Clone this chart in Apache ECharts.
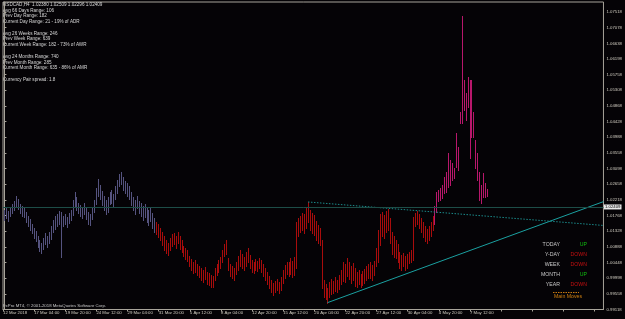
<!DOCTYPE html>
<html><head><meta charset="utf-8">
<script src="https://cdn.jsdelivr.net/npm/echarts/dist/echarts.min.js"></script>
<style>html,body{margin:0;padding:0;background:#000}#c{width:625px;height:319px}</style>
</head><body><div id="c"></div>
<script>
// ---- data ----
const highs = [
1.0192,1.0198,1.0189,1.0200,1.0209,1.0217,1.0231,1.0223,1.0209,1.0203,
1.0198,1.0186,1.0175,1.0167,1.0153,1.0141,1.0133,1.0119,1.0108,1.0099,
1.0113,1.0127,1.0119,1.0130,1.0147,1.0164,1.0175,1.0181,1.0189,1.0186,
1.0175,1.0181,1.0172,1.0184,1.0192,1.0220,1.0243,1.0228,1.0212,1.0206,
1.0200,1.0212,1.0198,1.0186,1.0181,1.0200,1.0220,1.0254,1.0279,1.0262,
1.0245,1.0231,1.0220,1.0228,1.0243,1.0248,1.0237,1.0259,1.0276,1.0293,
1.0299,1.0285,1.0273,1.0268,1.0259,1.0243,1.0228,1.0220,1.0231,1.0217,
1.0212,1.0203,1.0209,1.0198,1.0192,1.0200,1.0184,1.0169,
1.0158,1.0153,1.0141,1.0130,1.0119,1.0108,1.0099,1.0113,1.0125,1.0127,
1.0119,1.0130,1.0119,1.0108,1.0091,1.0085,1.0080,1.0063,1.0054,1.0046,
1.0051,1.0040,1.0035,1.0029,1.0023,1.0032,1.0018,1.0015,1.0009,1.0006,
1.0029,1.0040,1.0051,1.0060,1.0080,1.0096,1.0108,1.0057,1.0040,1.0035,
1.0029,1.0046,1.0063,1.0080,1.0068,1.0060,1.0074,1.0085,1.0065,1.0051,
1.0046,1.0054,1.0049,1.0057,1.0051,1.0040,1.0029,1.0018,1.0006,0.9995,
0.9987,0.9992,0.9998,0.9990,1.0004,1.0023,1.0037,1.0046,1.0046,1.0057,
1.0049,1.0060,1.0158,1.0169,1.0175,1.0184,1.0181,1.0198,1.0214,1.0192,
1.0184,1.0178,1.0161,1.0150,1.0141,1.0108,0.9995,0.9984,0.9973,0.9990,
0.9998,0.9992,1.0004,0.9995,1.0009,1.0023,1.0046,1.0040,1.0057,1.0046,
1.0035,1.0043,1.0029,1.0018,1.0023,1.0012,1.0021,1.0026,1.0035,1.0040,
1.0046,1.0037,1.0049,1.0085,1.0136,1.0181,1.0186,1.0178,1.0189,1.0195,
1.0169,1.0130,1.0119,1.0108,1.0096,1.0074,1.0065,1.0071,1.0063,1.0068,
1.0074,1.0080,1.0172,1.0184,1.0189,1.0181,1.0169,1.0158,1.0147,1.0139,
1.0147,1.0158,1.0175,1.0203,1.0243,1.0248,1.0254,1.0262,1.0285,1.0299,
1.0352,1.0332,1.0324,1.0310,1.0408,1.0369,1.0467,1.0737,1.0557,1.0521,
1.0566,1.0557,1.0557,1.0467,1.0389,1.0352,1.0299,1.0262,1.0296,1.0268,
1.0251
];
const lows = [
1.0164,1.0169,1.0161,1.0175,1.0184,1.0192,1.0203,1.0195,1.0184,1.0175,
1.0172,1.0158,1.0147,1.0136,1.0127,1.0113,1.0105,1.0088,1.0077,1.0071,
1.0082,1.0096,1.0088,1.0099,1.0110,1.0130,1.0139,1.0147,1.0153,1.0060,
1.0147,1.0153,1.0144,1.0155,1.0164,1.0178,1.0200,1.0192,1.0184,1.0175,
1.0169,1.0181,1.0167,1.0153,1.0150,1.0167,1.0186,1.0209,1.0231,1.0223,
1.0206,1.0192,1.0181,1.0186,1.0209,1.0212,1.0203,1.0223,1.0240,1.0259,
1.0265,1.0248,1.0240,1.0231,1.0223,1.0206,1.0192,1.0181,1.0198,1.0184,
1.0175,1.0164,1.0172,1.0158,1.0150,1.0161,1.0141,1.0130,
1.0125,1.0116,1.0108,1.0094,1.0080,1.0071,1.0065,1.0080,1.0091,1.0096,
1.0085,1.0099,1.0082,1.0074,1.0063,1.0054,1.0049,1.0035,1.0023,1.0015,
1.0018,1.0009,1.0004,0.9995,0.9990,0.9998,0.9984,0.9981,0.9975,0.9975,
0.9995,1.0009,1.0018,1.0029,1.0046,1.0063,1.0068,1.0023,1.0006,1.0001,
0.9995,1.0012,1.0023,1.0035,1.0029,1.0023,1.0035,1.0046,1.0029,1.0018,
1.0015,1.0023,1.0021,1.0029,1.0018,1.0006,0.9995,0.9984,0.9973,0.9961,
0.9953,0.9961,0.9967,0.9959,0.9967,0.9987,1.0001,1.0012,1.0006,1.0012,
1.0004,1.0009,1.0029,1.0119,1.0130,1.0136,1.0127,1.0141,1.0158,1.0136,
1.0127,1.0122,1.0108,1.0099,1.0094,0.9973,0.9947,0.9942,0.9931,0.9947,
0.9956,0.9959,0.9964,0.9961,0.9970,0.9984,0.9992,0.9990,1.0006,0.9998,
0.9987,0.9995,0.9978,0.9975,0.9984,0.9975,0.9981,0.9987,0.9995,1.0001,
1.0001,0.9995,1.0009,1.0035,1.0046,1.0094,1.0119,1.0113,1.0130,1.0136,
1.0099,1.0068,1.0060,1.0057,1.0046,1.0029,1.0023,1.0035,1.0023,1.0029,
1.0043,1.0046,1.0051,1.0147,1.0153,1.0141,1.0130,1.0116,1.0105,1.0099,
1.0108,1.0119,1.0136,1.0153,1.0186,1.0217,1.0220,1.0226,1.0240,1.0243,
1.0257,1.0262,1.0276,1.0282,1.0313,1.0304,1.0436,1.0436,1.0473,1.0445,
1.0481,1.0338,1.0397,1.0397,1.0310,1.0276,1.0220,1.0212,1.0228,1.0228,
1.0230
];
const lastClose = 1.02409;
const trendSolid = [[166, 0.9931], [307.85, 1.0215]];
const trendDotted = [[156, 1.0214], [307.85, 1.0148]];
const yTickLabels = ['0.99118','0.99558','0.99998','1.00448','1.00888','1.01328','1.01768','1.02218','1.02658','1.03098',
  '1.03558','1.03988','1.04428','1.04868','1.05308','1.05758','1.06198','1.06638','1.07078','1.07518'];
const xTickLabels = ['12 Mar 2018','17 Mar 04:00','19 Mar 20:00','24 Mar 12:00','29 Mar 04:00','31 Mar 20:00','5 Apr 12:00',
  '8 Apr 04:00','12 Apr 20:00','15 Apr 12:00','20 Apr 04:00','22 Apr 20:00','27 Apr 12:00','30 Apr 04:00','4 May 20:00','7 May 12:00'];
const infoLines = [
  'USDCAD,H4  1.02380 1.02509 1.02296 1.02409',
  'Avg 66 Days Range: 106',
  'Prev Day Range: 182',
  'Current Day Range: 21 - 19% of ADR',
  'Avg 26 Weeks Range: 246',
  'Prev Week Range: 639',
  'Current Week Range: 182 - 73% of AWR',
  'Avg 24 Months Range: 740',
  'Prev Month Range: 285',
  'Current Month Range: 635 - 86% of AMR',
  'Currency Pair spread: 1.8'
];
const moveNames = ['TODAY','Y-DAY','WEEK','MONTH','YEAR'];
const moveDirs = ['UP','DOWN','DOWN','UP','DOWN'];
const copyright = 'FxPro MT4, \u00a9 2001-2018 MetaQuotes Software Corp.';

// ---- chart ----
const Y_MIN = 0.99118, Y_INT = 0.0044, X_MIN = -0.75, X_INT = 16;
const bars = highs.map((h, i) => [i, h, lows[i]]);
function barColor(i) {
  if (i < 78) return '#55537f';
  if (i < 221) return '#a80c0c';
  return '#b8176b';
}
const FONT = 'Liberation Sans, Arial, sans-serif';
const chart = echarts.init(document.getElementById('c'), null, {renderer: 'canvas'});
const infoY = [5, 10.5, 16, 21.5, 33.5, 39, 44.5, 57, 62.5, 68, 80];
const graphics = [];
infoLines.forEach((t, k) => graphics.push({type: 'text', left: 3, top: infoY[k] - 2.5,
  style: {text: t, fill: '#d8d8d8', font: '4.6px ' + FONT}}));
const legY = [245, 255, 265, 275, 285];
moveNames.forEach((t, k) => {
  graphics.push({type: 'text', x: 560, y: legY[k], style: {text: t, fill: '#c8c8c8', font: '5.2px ' + FONT, textAlign: 'right', textVerticalAlign: 'middle'}});
  graphics.push({type: 'text', x: 587, y: legY[k], style: {text: moveDirs[k], fill: moveDirs[k] === 'UP' ? '#10c010' : '#c81010', font: '5.2px ' + FONT, textAlign: 'right', textVerticalAlign: 'middle'}});
});
graphics.push({type: 'line', shape: {x1: 553, y1: 292.5, x2: 579, y2: 292.5}, style: {stroke: '#c87a10', lineWidth: 1, lineDash: [1.5, 1]}});
graphics.push({type: 'text', x: 568, y: 297, style: {text: 'Main Moves', fill: '#d08010', font: '5.2px ' + FONT, textAlign: 'center', textVerticalAlign: 'middle'}});
graphics.push({type: 'text', x: 3, y: 306, style: {text: copyright, fill: '#c8c8c8', font: '4.3px ' + FONT, textVerticalAlign: 'middle'}});

chart.setOption({
  backgroundColor: '#050306',
  animation: false,
  grid: {left: 1.5, right: 19, top: 2, bottom: 9.5, show: true, borderColor: '#a8a49a', borderWidth: 1, backgroundColor: 'transparent'},
  xAxis: {
    type: 'value', min: X_MIN, max: 307.85, interval: X_INT,
    axisLine: {lineStyle: {color: '#a8a49a', width: 1}},
    axisTick: {show: true, length: 2, lineStyle: {color: '#a8a49a'}},
    splitLine: {show: false},
    axisLabel: {show: true, color: '#d0ccc0', fontSize: 4.3, fontFamily: FONT, align: 'left', margin: 1.5,
      showMinLabel: true, showMaxLabel: false,
      formatter: v => { const k = (v - X_MIN) / X_INT; const r = Math.round(k); return Math.abs(k - r) < 0.01 ? (xTickLabels[r] || '') : ''; }}
  },
  yAxis: {
    type: 'value', position: 'right', min: Y_MIN, max: 1.0776, interval: Y_INT, scale: true,
    axisLine: {show: true, lineStyle: {color: '#a8a49a', width: 1}},
    axisTick: {show: true, length: 2, lineStyle: {color: '#a8a49a'}},
    splitLine: {show: false},
    axisLabel: {show: true, color: '#d0ccc0', fontSize: 4.3, fontFamily: FONT, margin: 3, showMaxLabel: false,
      formatter: v => { const k = (v - Y_MIN) / Y_INT; const r = Math.round(k); return Math.abs(k - r) < 0.01 ? (yTickLabels[r] || '') : ''; }}
  },
  graphic: graphics,
  series: [
    {
      type: 'custom', data: bars, encode: {x: 0, y: [1, 2]}, clip: true,
      renderItem: (params, api) => {
        const i = api.value(0);
        const hi = api.coord([i, api.value(1)]);
        const lo = api.coord([i, api.value(2)]);
        const x = Math.round(hi[0]) + 0.5;
        return {type: 'line', shape: {x1: x, y1: Math.round(hi[1]), x2: x, y2: Math.round(lo[1]) + 1},
          style: {stroke: barColor(i), lineWidth: 1}};
      },
      markLine: {silent: true, symbol: 'none', label: {show: true, position: 'end', formatter: lastClose.toFixed(5),
          color: '#000', backgroundColor: '#e8e8e8', fontSize: 4.3, fontFamily: FONT, padding: [0.5, 1, 0.5, 1], distance: 0.5},
        lineStyle: {color: '#1d4d47', width: 1, type: 'solid'}, data: [{yAxis: lastClose}]}
    },
    {type: 'line', data: trendSolid, symbol: 'none', lineStyle: {color: '#1aa0a0', width: 1}, silent: true},
    {type: 'line', data: trendDotted, symbol: 'none', lineStyle: {color: '#1a8a8a', width: 1, type: [1.5, 1.5]}, silent: true}
  ]
});
</script></body></html>
